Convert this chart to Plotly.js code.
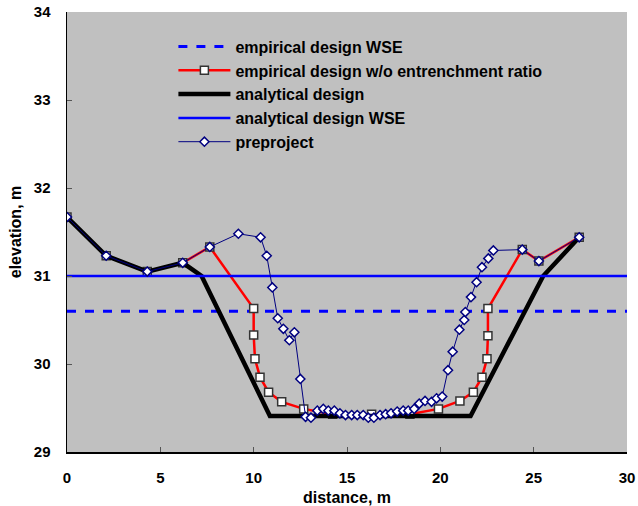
<!DOCTYPE html>
<html>
<head>
<meta charset="utf-8">
<script src="https://cdn.plot.ly/plotly-3.0.1.min.js"></script>
<style>html,body{margin:0;padding:0;background:#fff;}</style>
</head>
<body>
<div id="chart" style="width:638px;height:506px;"></div>
<script>
// Water surface elevations
const empiricalWSE = 30.6;
const analyticalWSE = 31.0;
const wseX = [0, 30];

// empirical design w/o entrenchment ratio
const empX = [0, 2.1, 4.3, 6.2, 7.65, 10.0, 10.0, 10.07, 10.34, 10.8, 11.5, 12.68, 14.23, 16.32, 18.37, 19.9, 21.05, 21.77, 22.23, 22.5, 22.55, 22.55, 24.39, 25.28, 27.44];
const empY = [31.67, 31.23, 31.05, 31.15, 31.33, 30.63, 30.33, 30.06, 29.85, 29.68, 29.57, 29.49, 29.43, 29.43, 29.43, 29.49, 29.58, 29.68, 29.85, 30.06, 30.32, 30.63, 31.30, 31.17, 31.44];

// analytical design
const anaX = [0, 2.1, 4.3, 6.2, 7.21, 10.87, 21.62, 25.51, 27.44];
const anaY = [31.67, 31.23, 31.05, 31.15, 31.0, 29.41, 29.41, 31.0, 31.44];

// preproject
const preX = [0, 2.1, 4.3, 6.2, 7.65, 9.18, 10.37, 10.7, 11.0, 11.29, 11.59, 11.91, 12.18, 12.5, 12.78, 13.07, 13.41, 13.73, 14.0, 14.32, 14.62, 14.92, 15.25, 15.55, 15.87, 16.14, 16.44, 16.77, 17.07, 17.36, 17.69, 18.01, 18.28, 18.6, 18.87, 19.18, 19.53, 19.8, 20.1, 20.41, 20.66, 21.02, 21.28, 21.34, 21.64, 21.94, 22.23, 22.57, 22.84, 24.39, 25.28, 27.44];
const preY = [31.67, 31.23, 31.05, 31.15, 31.33, 31.48, 31.44, 31.23, 30.87, 30.52, 30.40, 30.27, 30.36, 29.83, 29.40, 29.39, 29.47, 29.49, 29.47, 29.47, 29.44, 29.42, 29.42, 29.42, 29.42, 29.39, 29.39, 29.42, 29.43, 29.44, 29.46, 29.47, 29.47, 29.49, 29.55, 29.58, 29.57, 29.61, 29.63, 29.93, 30.14, 30.39, 30.50, 30.59, 30.76, 30.93, 31.10, 31.20, 31.29, 31.30, 31.17, 31.44];

const xTicks = [0, 5, 10, 15, 20, 25, 30];
const yTicks = [29, 30, 31, 32, 33, 34];

const fam = 'Liberation Sans, Arial, sans-serif';
const tickFont = {family: fam, size: 15, color: '#000', weight: 'bold'};
const titleFont = {family: fam, size: 16, color: '#000', weight: 'bold'};
const legendFont = {family: fam, size: 16, color: '#000', weight: 'bold'};

const traces = [
  {x: wseX, y: [empiricalWSE, empiricalWSE], mode: 'lines', name: 'empirical design WSE',
   line: {color: '#0000ff', width: 3, dash: 'dash'}},
  {x: empX, y: empY, mode: 'lines+markers', name: 'empirical design w/o entrenchment ratio',
   line: {color: '#ff0000', width: 2.5},
   marker: {symbol: 'square', size: 8, color: '#ffffff', line: {color: '#333333', width: 1.5}}},
  {x: anaX, y: anaY, mode: 'lines', name: 'analytical design',
   line: {color: '#000000', width: 4.5}},
  {x: wseX, y: [analyticalWSE, analyticalWSE], mode: 'lines', name: 'analytical design WSE',
   line: {color: '#0000ff', width: 2.5}},
  {x: preX, y: preY, mode: 'lines+markers', name: 'preproject',
   line: {color: '#000080', width: 1},
   marker: {symbol: 'diamond', size: 7, color: '#ffffff', line: {color: '#000080', width: 1.5}}}
];

const layout = {
  width: 638, height: 506,
  margin: {l: 67, r: 11, t: 12, b: 54, pad: 0},
  paper_bgcolor: '#ffffff',
  plot_bgcolor: '#c0c0c0',
  font: tickFont,
  showlegend: true,
  legend: {x: 0.19, y: 0.96, xanchor: 'left', yanchor: 'top', bgcolor: 'rgba(0,0,0,0)',
           font: legendFont, tracegroupgap: 0, itemwidth: 52},
  xaxis: {range: [0, 30], tickvals: xTicks, ticktext: xTicks.map(String),
          showgrid: false, zeroline: false, showline: true, linecolor: '#000', linewidth: 1.5,
          ticks: 'inside', ticklen: 5, tickcolor: '#555', tickfont: tickFont, ticklabelstandoff: 11,
          title: {text: 'distance, m', font: titleFont, standoff: 7}},
  yaxis: {range: [29, 34], tickvals: yTicks, ticktext: yTicks.map(String),
          showgrid: false, zeroline: false, showline: true, linecolor: '#000', linewidth: 1.5,
          ticks: 'inside', ticklen: 5, tickcolor: '#555', tickfont: tickFont, ticklabelstandoff: 12,
          title: {text: 'elevation, m', font: titleFont, standoff: 8}}
};

Plotly.newPlot('chart', traces, layout, {displayModeBar: false, staticPlot: true});
</script>
</body>
</html>
